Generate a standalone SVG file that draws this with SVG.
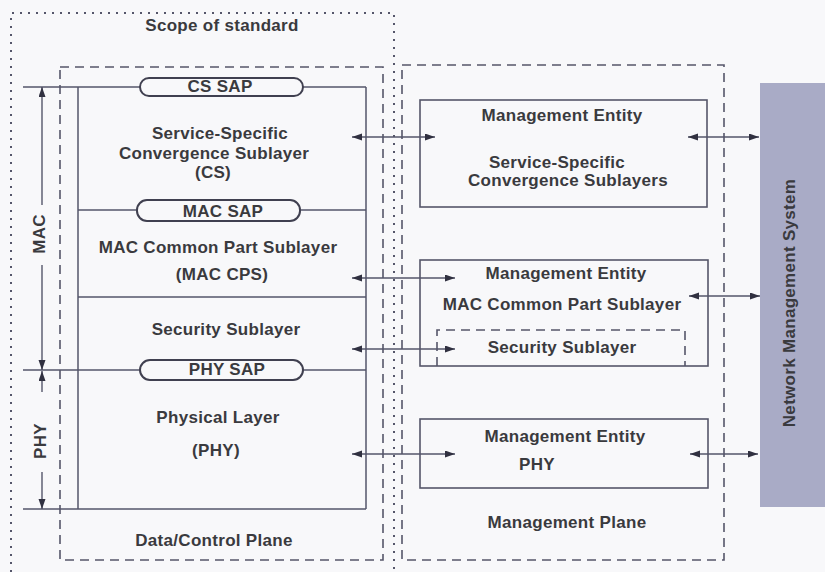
<svg xmlns="http://www.w3.org/2000/svg" width="825" height="572" viewBox="0 0 825 572">
<style>
  text { font-family: "Liberation Sans", Arial, sans-serif; font-weight: bold; font-size: 17px; fill: #3a3a3e; letter-spacing: 0.3px; }
  .c { text-anchor: middle; }
  .ln { stroke: #55566a; stroke-width: 1.5; fill: none; }
  .box { stroke: #55566a; stroke-width: 1.6; fill: none; }
  .dash { stroke: #55566a; stroke-width: 1.6; fill: none; stroke-dasharray: 9 6; }
  .dot { stroke: #55566a; stroke-width: 2; fill: none; stroke-dasharray: 2 6; }
  .pill { stroke: #404050; stroke-width: 2; fill: #f8f8fa; }
  .arr { stroke: #55566a; stroke-width: 1.4; fill: none; marker-start: url(#ah); marker-end: url(#ah); }
  .arr1 { stroke: #55566a; stroke-width: 1.4; fill: none; marker-end: url(#ah); }
</style>
<defs>
  <marker id="ah" markerUnits="userSpaceOnUse" markerWidth="11" markerHeight="8" refX="10" refY="3.5" orient="auto-start-reverse">
    <path d="M0,0 L10,3.5 L0,7 z" fill="#303040"/>
  </marker>
</defs>
<rect x="0" y="0" width="825" height="572" fill="#f8f8fa"/>

<g id="scope">
  <path class="dot" d="M11,580 L11,13 L394,13 L394,580"/>
  <text class="c" x="222" y="31">Scope of standard</text>
</g>

<g id="data-control-plane">
  <rect class="dash" x="60" y="67" width="323" height="493"/>
  <text class="c" x="214" y="546">Data/Control Plane</text>
</g>

<g id="management-plane">
  <rect class="dash" x="402" y="65" width="322" height="495"/>
  <text class="c" x="567" y="528">Management Plane</text>
</g>

<g id="data-stack">
  <line class="ln" x1="23" y1="87" x2="366" y2="87"/>
  <line class="ln" x1="23" y1="370" x2="366" y2="370"/>
  <line class="ln" x1="23" y1="509" x2="366" y2="509"/>
  <line class="ln" x1="78" y1="87" x2="78" y2="509"/>
  <line class="ln" x1="366" y1="87" x2="366" y2="509"/>
  <line class="ln" x1="78" y1="210" x2="366" y2="210"/>
  <line class="ln" x1="78" y1="297" x2="366" y2="297"/>
</g>

<g id="cs-sap">
  <rect class="pill" x="140" y="78" width="163" height="18" rx="9"/>
  <text class="c" x="220" y="92">CS SAP</text>
</g>
<g id="cs">
  <text class="c" x="220" y="139">Service-Specific</text>
  <text class="c" x="214" y="159">Convergence Sublayer</text>
  <text class="c" x="213" y="178">(CS)</text>
</g>
<g id="mac-sap">
  <rect class="pill" x="137" y="200" width="163" height="21" rx="10"/>
  <text class="c" x="223" y="217">MAC SAP</text>
</g>
<g id="mac-cps">
  <text class="c" x="218" y="253">MAC Common Part Sublayer</text>
  <text class="c" x="222" y="280">(MAC CPS)</text>
</g>
<g id="security">
  <text class="c" x="226" y="335">Security Sublayer</text>
</g>
<g id="phy-sap">
  <rect class="pill" x="140" y="360" width="163" height="20" rx="10"/>
  <text class="c" x="227" y="375">PHY SAP</text>
</g>
<g id="phy">
  <text class="c" x="218" y="423">Physical Layer</text>
  <text class="c" x="216" y="456">(PHY)</text>
</g>

<g id="mac-range">
  <line class="arr1" x1="42" y1="205" x2="42" y2="87"/>
  <line class="arr1" x1="42" y1="265" x2="42" y2="370"/>
  <text class="c" transform="translate(45,234) rotate(-90)">MAC</text>
</g>
<g id="phy-range">
  <line class="arr1" x1="42" y1="392" x2="42" y2="371"/>
  <line class="arr1" x1="42" y1="472" x2="42" y2="509"/>
  <text class="c" transform="translate(46,441) rotate(-90)">PHY</text>
</g>

<g id="me-cs">
  <rect class="box" x="420" y="100" width="287" height="107"/>
  <text class="c" x="562" y="121">Management Entity</text>
  <text class="c" x="557" y="168">Service-Specific</text>
  <text class="c" x="568" y="186">Convergence Sublayers</text>
</g>
<g id="me-mac">
  <rect class="box" x="420" y="260" width="288" height="106"/>
  <text class="c" x="566" y="279">Management Entity</text>
  <text class="c" x="562" y="310">MAC Common Part Sublayer</text>
  <path class="dash" d="M437,366 L437,330 L685,330 L685,366"/>
  <text class="c" x="562" y="353">Security Sublayer</text>
</g>
<g id="me-phy">
  <rect class="box" x="420" y="419" width="288" height="69"/>
  <text class="c" x="565" y="442">Management Entity</text>
  <text class="c" x="537" y="470">PHY</text>
</g>

<g id="nms">
  <rect x="760" y="83" width="65" height="424" fill="#a9abc6"/>
  <text class="c" transform="translate(795,303) rotate(-90)">Network Management System</text>
</g>

<g id="connectors">
  <line class="arr" x1="352" y1="137" x2="435" y2="137"/>
  <line class="arr" x1="688" y1="137" x2="759" y2="137"/>
  <line class="arr" x1="352" y1="278" x2="455" y2="278"/>
  <line class="arr" x1="689" y1="296" x2="760" y2="296"/>
  <line class="arr" x1="352" y1="349" x2="455" y2="349"/>
  <line class="arr" x1="352" y1="454" x2="455" y2="454"/>
  <line class="arr" x1="690" y1="454" x2="758" y2="454"/>
</g>
</svg>
